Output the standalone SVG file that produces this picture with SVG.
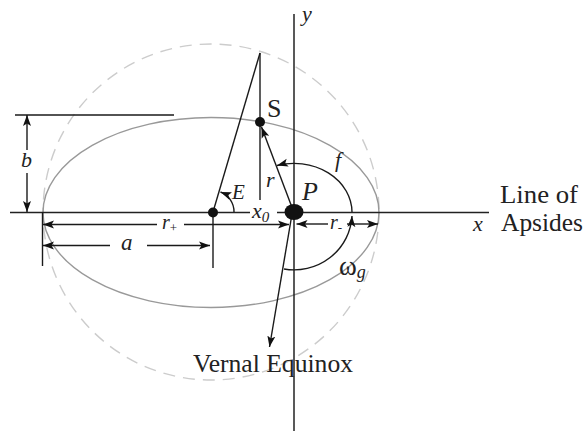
<svg xmlns="http://www.w3.org/2000/svg" width="584" height="431" viewBox="0 0 584 431">
<style>
.ax{stroke:#222;stroke-width:1.5;fill:none}
.ln{stroke:#1a1a1a;stroke-width:1.4;fill:none}
.orb{stroke:#999;stroke-width:1.4;fill:none}
.aux{stroke:#ccc;stroke-width:1.4;fill:none;stroke-dasharray:12 8}
.m{font-family:"Liberation Serif",serif;font-style:italic;fill:#222}
.t{font-family:"Liberation Serif",serif;fill:#222}
</style>
<defs>
<marker id="ah" markerUnits="userSpaceOnUse" markerWidth="12" markerHeight="10" refX="11" refY="4.5" orient="auto-start-reverse">
<path d="M0,0.5 L11,4.5 L0,8.5 L2.5,4.5 z" fill="#111"/>
</marker>
</defs>
<rect width="584" height="431" fill="#fff"/>
<g id="circle"><circle cx="211" cy="212" r="168" class="aux"/></g>
<g id="orbit"><ellipse cx="211" cy="212.5" rx="168" ry="95" class="orb"/></g>
<g id="connectors">
<line x1="10" y1="212.5" x2="250" y2="212.5" class="ax"/>
<line x1="277" y1="212.5" x2="489" y2="212.5" class="ax"/>
<line x1="294" y1="14" x2="294" y2="431" class="ax"/>
<line x1="15" y1="115" x2="174" y2="115" class="ln"/>
<line x1="27" y1="150" x2="27" y2="115" class="ln" marker-end="url(#ah)"/>
<line x1="27" y1="173" x2="27" y2="212" class="ln" marker-end="url(#ah)"/>
<line x1="42.5" y1="212" x2="42.5" y2="266" class="ln"/>
<line x1="213" y1="212" x2="213" y2="268" class="ln"/>
<line x1="157" y1="224.5" x2="43" y2="224.5" class="ln" marker-end="url(#ah)"/>
<line x1="184" y1="224.5" x2="289" y2="224.5" class="ln" marker-end="url(#ah)"/>
<line x1="110" y1="245.5" x2="43" y2="245.5" class="ln" marker-end="url(#ah)"/>
<line x1="147" y1="245.5" x2="210" y2="245.5" class="ln" marker-end="url(#ah)"/>
<line x1="328" y1="224" x2="296.5" y2="224" class="ln" marker-end="url(#ah)"/>
<line x1="347" y1="224" x2="378" y2="224" class="ln" marker-end="url(#ah)"/>
<line x1="213" y1="212" x2="260" y2="53" class="ln"/>
<line x1="260" y1="53" x2="260" y2="200" class="ln"/>
<path d="M234,212 A21,21 0 0 0 220.5,192" class="ln" marker-end="url(#ah)"/>
<line x1="293" y1="210" x2="261.5" y2="127" class="ln" marker-end="url(#ah)"/>
<path d="M352,212 A58,49 0 0 0 277,165.5" class="ln" marker-end="url(#ah)"/>
<path d="M284,269 A58,57 0 0 0 352,216" class="ln" marker-end="url(#ah)"/>
<line x1="292" y1="214" x2="269.5" y2="347" class="ln" marker-end="url(#ah)"/>
</g>
<g id="center"><circle cx="213" cy="212.5" r="5" fill="#111"/></g>
<g id="S"><circle cx="260" cy="122" r="5" fill="#111"/><text x="267" y="117" class="t" font-size="26">S</text></g>
<g id="P"><ellipse cx="294" cy="212" rx="9.5" ry="8" fill="#111"/><text x="302" y="200" class="m" font-size="26">P</text></g>
<g id="labels">
<text x="302" y="21" class="m" font-size="22">y</text>
<text x="21" y="167" class="m" font-size="22">b</text>
<text x="232" y="199" class="m" font-size="21">E</text>
<text x="266" y="187" class="m" font-size="22">r</text>
<text x="335" y="167" class="m" font-size="22">f</text>
<text x="252" y="218" class="m" font-size="22">x<tspan font-size="15" dy="4">0</tspan></text>
<text x="162" y="229" class="m" font-size="20">r<tspan font-size="13" dy="3" font-style="normal">+</tspan></text>
<text x="121" y="250" class="m" font-size="23">a</text>
<text x="330" y="229" class="m" font-size="20">r<tspan font-size="13" dy="3" font-style="normal">-</tspan></text>
<text x="339" y="275" class="t" font-size="27">ω<tspan class="m" font-size="18" dy="3">g</tspan></text>
<text x="473" y="231" class="m" font-size="22">x</text>
<text x="500" y="203" class="t" font-size="25" textLength="78" lengthAdjust="spacingAndGlyphs">Line of</text>
<text x="501" y="231" class="t" font-size="25" textLength="82" lengthAdjust="spacingAndGlyphs">Apsides</text>
<text x="193" y="372" class="t" font-size="25" textLength="160" lengthAdjust="spacingAndGlyphs">Vernal Equinox</text>
</g>
</svg>
